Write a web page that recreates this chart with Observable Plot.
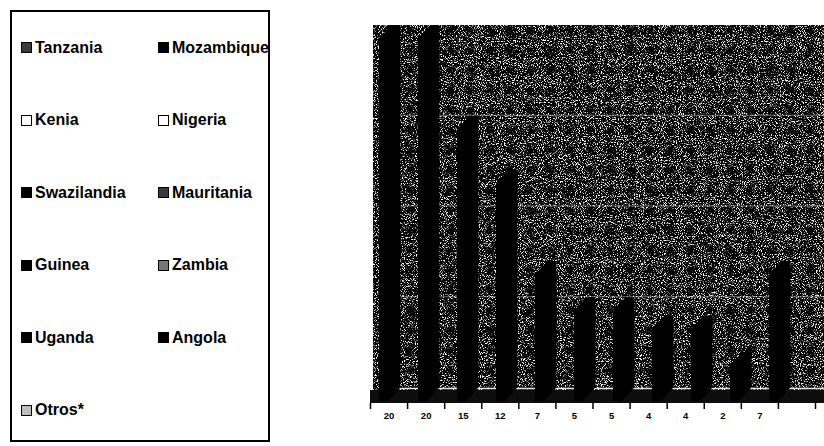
<!DOCTYPE html>
<html>
<head>
<meta charset="utf-8">
<script src="https://cdn.jsdelivr.net/npm/d3@7"></script>
<script src="https://cdn.jsdelivr.net/npm/@observablehq/plot@0.6"></script>
<style>
  body { margin: 0; background: #fff; }
  #wrap { position: relative; width: 824px; height: 446px; overflow: hidden;
          font-family: "Liberation Sans", Arial, sans-serif; }
  #wrap svg { position: absolute; left: 0; top: 0; }
  #legend { position: absolute; left: 10px; top: 10px; width: 256px; height: 428px;
            border: 2px solid #000; }
  .sw { position: absolute; width: 9px; height: 9px; border: 1px solid #000; }
  .lab { position: absolute; font-weight: bold; font-size: 16px; line-height: 16px;
         white-space: nowrap; color: #000; }
</style>
</head>
<body>
<div id="wrap"><div id="legend"></div></div>
<script>
// ---- data ----
const countries = ["Tanzania", "Mozambique", "Kenia", "Nigeria", "Swazilandia", "Mauritania",
                   "Guinea", "Zambia", "Uganda", "Angola", "Otros*"];
const values = [20, 20, 15, 12, 7, 5, 5, 4, 4, 2, 7];
const tickLabels = ["20", "20", "15", "12", "7", "5", "5", "4", "4", "2", "7"];
const swatchFills = ["#3a3a3a", "#000000", "#ffffff", "#ffffff", "#000000", "#3a3a3a",
                     "#000000", "#777777", "#000000", "#000000", "#bdbdbd"];

const slots = countries.concat([" "]); // empty 12th position on the floor
const wrap = document.getElementById("wrap");

// ---- 3D-ish box and bars ----
const K = 12;
const svgA = Plot.plot({
  width: 824, height: 446,
  marginLeft: 380, marginRight: 0, marginTop: 25, marginBottom: 58,
  style: { background: "transparent" },
  x: { type: "band", domain: slots, range: [367, 842], padding: 0, axis: null },
  y: { domain: [0, 20], axis: null },
  marks: [
    Plot.frame({ fill: "#505050", stroke: null, insetLeft: -7, insetBottom: -14 }),
    Plot.ruleY([0], { stroke: "#0d0d0d", strokeWidth: 13, dy: 8, insetLeft: -10 }),
    Plot.ruleY([5, 10, 15], { stroke: "#d8d8d8", strokeWidth: 1, strokeOpacity: 0.5, dy: -1 }),
    Plot.ruleY([0], { stroke: "#e6e6e6", strokeWidth: 1.5 }),
    ...d3.range(K + 1).map(k => Plot.barY(values, {
      x: (d, i) => countries[i], y: d => d, fill: "#000",
      insetLeft: 20, insetRight: 9.6, dx: -12 * k / K, dy: 13 * k / K
    }))
  ]
});

// speckled texture on the back wall
svgA.insertAdjacentHTML("afterbegin",
  `<defs><filter id="speckle" x="0" y="0" width="1" height="1" color-interpolation-filters="sRGB">
     <feTurbulence type="fractalNoise" baseFrequency="0.95" numOctaves="2" seed="7"/>
     <feColorMatrix type="matrix" values="7 0 0 0 -3.75  7 0 0 0 -3.75  7 0 0 0 -3.75  0 0 0 0 1"/>
   </filter></defs>`);
let fr = svgA.querySelector('[aria-label="frame"]');
if (fr) {
  const r = fr.tagName.toLowerCase() === "rect" ? fr : fr.querySelector("rect");
  if (r) r.setAttribute("filter", "url(#speckle)");
}

// ---- category axis (ticks between categories, value labels) ----
const svgB = Plot.plot({
  width: 824, height: 446,
  marginTop: 25, marginBottom: 43, marginLeft: 370, marginRight: 9,
  style: { background: "transparent", fontFamily: "'Liberation Sans', Arial, sans-serif" },
  x: { domain: [0, 12], range: [370, 815], axis: null },
  marks: [
    Plot.axisX(d3.range(13), { anchor: "bottom", tickSize: 6, tickFormat: () => "", strokeWidth: 1.5 }),
    Plot.axisX(d3.range(tickLabels.length).map(i => i + 0.5), {
      anchor: "bottom", tickSize: 0, tickPadding: 9,
      tickFormat: d => tickLabels[Math.floor(d)], fontSize: 9.5, fontWeight: "bold"
    })
  ]
});

wrap.appendChild(svgA);
wrap.appendChild(svgB);

// ---- legend box ----
countries.forEach((name, i) => {
  const col = i % 2, row = Math.floor(i / 2);
  const baseline = 53 + 72.5 * row;
  const sx = col === 0 ? 21 : 158;
  const tx = col === 0 ? 35 : 172;
  const sw = document.createElement("div");
  sw.className = "sw";
  sw.style.left = sx + "px";
  sw.style.top = (baseline - 11) + "px";
  sw.style.background = swatchFills[i];
  wrap.appendChild(sw);
  const lab = document.createElement("div");
  lab.className = "lab";
  lab.style.left = tx + "px";
  lab.style.top = (baseline - 13.5) + "px";
  lab.textContent = name;
  wrap.appendChild(lab);
});
</script>
</body>
</html>
